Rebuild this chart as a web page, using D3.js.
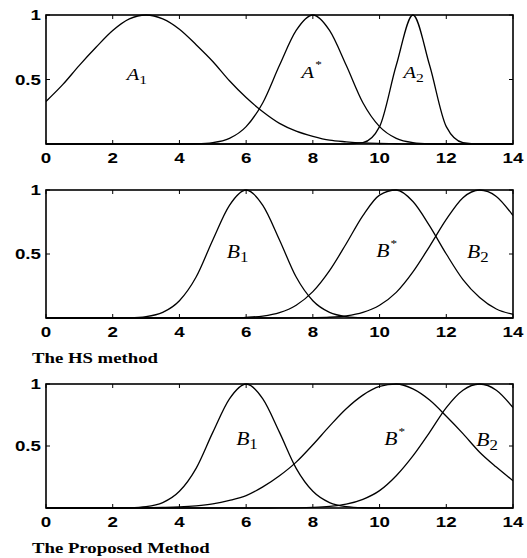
<!DOCTYPE html>
<html>
<head>
<meta charset="utf-8">
<script src="https://cdn.jsdelivr.net/npm/d3@7"></script>
<style>
  html, body { margin: 0; padding: 0; background: #fff; }
  svg { display: block; }
  .tick-label { font-family: "Liberation Sans", Arial, sans-serif; font-weight: bold; font-size: 15px; fill: #000; }
  .caption { font-family: "Liberation Serif", "Times New Roman", serif; font-weight: bold; font-size: 15px; fill: #000; }
  .mf-label { font-family: "Liberation Serif", "Times New Roman", serif; fill: #000; }
</style>
</head>
<body>
<svg id="chart" width="527" height="558"></svg>
<script>
// Shared sample grid (universe of discourse 0..14, step 0.5)
const xs = [0,0.5,1,1.5,2,2.5,3,3.5,4,4.5,5,5.5,6,6.5,7,7.5,8,8.5,9,9.5,10,10.5,11,11.5,12,12.5,13,13.5,14];

// Panel 1: antecedent fuzzy sets
const muA1    = [0.33,0.46,0.61,0.75,0.88,0.97,1,0.97,0.89,0.77,0.64,0.49,0.36,0.25,0.16,0.10,0.06,0.03,0.017,0.008,0.004,0.002,0,0,0,0,0,0,0];
const muAstar = [0,0,0,0,0,0,0,0,0,0.002,0.011,0.044,0.135,0.32,0.61,0.88,1,0.88,0.61,0.32,0.135,0.044,0.011,0.002,0,0,0,0,0];
const muA2    = [0,0,0,0,0,0,0,0,0,0,0,0,0,0,0,0,0,0,0,0.011,0.135,0.61,1,0.61,0.135,0.011,0,0,0];

// Panel 2: consequent sets, HS method
const muB1      = [0,0,0,0,0,0.002,0.011,0.044,0.135,0.32,0.61,0.88,1,0.88,0.61,0.32,0.135,0.044,0.011,0.002,0,0,0,0,0,0,0,0,0];
const muBstarHS = [0,0,0,0,0,0,0,0,0,0,0.0003,0.0014,0.005,0.015,0.042,0.10,0.206,0.37,0.58,0.80,0.96,1,0.91,0.72,0.50,0.30,0.16,0.07,0.029];
const muB2HS    = [0,0,0,0,0,0,0,0,0,0,0,0,0,0,0,0.0004,0.0017,0.0057,0.017,0.044,0.10,0.20,0.36,0.56,0.77,0.94,1,0.95,0.80];

// Panel 3: consequent sets, proposed method
const muBstarP = [0,0,0,0,0.0003,0.0007,0.0017,0.004,0.008,0.017,0.033,0.061,0.10,0.17,0.26,0.37,0.51,0.66,0.80,0.91,0.98,1,0.96,0.87,0.74,0.60,0.45,0.33,0.22];
const muB2P    = [0,0,0,0,0,0,0,0,0,0,0,0,0,0,0.0004,0.0014,0.0045,0.0125,0.031,0.07,0.14,0.26,0.42,0.61,0.81,0.95,1,0.95,0.81];

// Axis ticks
const xTicks = [0,2,4,6,8,10,12,14];
const yTicks = [0.5,1];

// Set names and captions
const namesA = [{t:"A", sub:"1"}, {t:"A", sup:"*"}, {t:"A", sub:"2"}];
const namesB = [{t:"B", sub:"1"}, {t:"B", sup:"*"}, {t:"B", sub:"2"}];
const captions = [null, "The HS method", "The Proposed Method"];

const svg = d3.select("#chart");
const left = 46, right = 513;
const sx = 1.2; // wide glyphs

const panels = [
  { top: 15,  bottom: 144, series: [muA1, muAstar, muA2], names: namesA, size: 17,
    at: [[2.42, 0.5], [7.66, 0.51], [10.72, 0.51]] },
  { top: 190, bottom: 318, series: [muB1, muBstarHS, muB2HS], names: namesB, size: 18,
    at: [[5.42, 0.47], [9.9, 0.48], [12.62, 0.47]] },
  { top: 384, bottom: 508, series: [muB1, muBstarP, muB2P], names: namesB, size: 18,
    at: [[5.7, 0.51], [10.14, 0.51], [12.9, 0.5]] }
];

const x = d3.scaleLinear().domain([0,14]).range([left, right]);

function wideText(parent, px, py, cls, str, anchor, stretch) {
  const g = parent.append("g").attr("transform", `translate(${px},${py}) scale(${stretch || 1.25},1)`);
  return g.append("text").attr("class", cls).attr("text-anchor", anchor || "start").text(str);
}

panels.forEach((p, pi) => {
  const y = d3.scaleLinear().domain([0,1]).range([p.bottom, p.top]);
  const g = svg.append("g");
  const clipId = "clip" + pi;
  svg.append("clipPath").attr("id", clipId)
    .append("rect").attr("x", left).attr("y", p.top - 1)
    .attr("width", right - left).attr("height", p.bottom - p.top + 2);

  const line = d3.line()
    .x((d, i) => x(xs[i]))
    .y(d => y(d))
    .curve(d3.curveMonotoneX);

  g.append("g").attr("clip-path", `url(#${clipId})`)
    .selectAll("path").data(p.series).join("path")
    .attr("d", line)
    .attr("fill", "none")
    .attr("stroke", "#000")
    .attr("stroke-width", 1.3);

  // Inward ticks on all four sides
  const tl = 4;
  xTicks.forEach(t => {
    g.append("line").attr("x1", x(t)).attr("x2", x(t)).attr("y1", p.bottom).attr("y2", p.bottom - tl).attr("stroke", "#000");
    g.append("line").attr("x1", x(t)).attr("x2", x(t)).attr("y1", p.top).attr("y2", p.top + tl).attr("stroke", "#000");
  });
  yTicks.forEach(t => {
    g.append("line").attr("x1", left).attr("x2", left + tl).attr("y1", y(t)).attr("y2", y(t)).attr("stroke", "#000");
    g.append("line").attr("x1", right).attr("x2", right - tl).attr("y1", y(t)).attr("y2", y(t)).attr("stroke", "#000");
  });

  // Frame
  g.append("rect").attr("x", left).attr("y", p.top)
    .attr("width", right - left).attr("height", p.bottom - p.top)
    .attr("fill", "none").attr("stroke", "#000").attr("stroke-width", 1.6);

  // Tick labels
  xTicks.forEach(t => wideText(g, x(t), p.bottom + 19, "tick-label", t, "middle"));
  yTicks.forEach(t => wideText(g, left - 5, y(t) + 5, "tick-label", t, "end"));

  // Membership function names
  p.names.forEach((n, k) => {
    const tx = wideText(g, x(p.at[k][0]), y(p.at[k][1]), "mf-label", null, "start", sx)
      .attr("font-size", p.size + "px");
    tx.append("tspan").attr("font-style", "italic").text(n.t);
    if (n.sub) tx.append("tspan").attr("font-size", (p.size - 4) + "px").attr("dy", 4).text(n.sub);
    if (n.sup) tx.append("tspan").attr("font-size", "11px").attr("fill", "#000").attr("dx", 1).attr("dy", -10).text(n.sup);
  });

  if (captions[pi]) wideText(svg, 32, p.bottom + 45, "caption", captions[pi]);
});
</script>
</body>
</html>
